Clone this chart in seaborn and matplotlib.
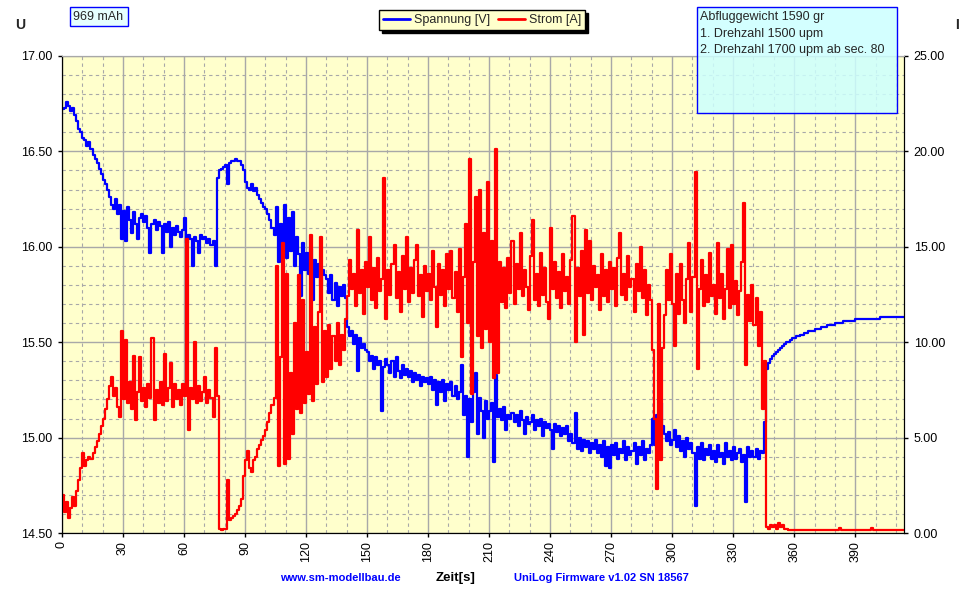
#import the required libraries
import matplotlib
matplotlib.use("Agg")
import matplotlib.pyplot as plt
from matplotlib.lines import Line2D
from matplotlib.patches import Rectangle
from matplotlib.ticker import MultipleLocator, FormatStrFormatter
import seaborn as sns

# UniLog log, one sample per second (t = 0 ... 414 s)
zeit = list(range(0, 415))

# Spannung [V]
spannung = [
    16.72, 16.73, 16.76, 16.74, 16.71, 16.73, 16.69, 16.66, 16.62, 16.60,  # 0
    16.57, 16.56, 16.53, 16.55, 16.51, 16.48, 16.46, 16.44, 16.41, 16.38,  # 10
    16.35, 16.33, 16.30, 16.26, 16.22, 16.20, 16.25, 16.17, 16.22, 16.04,  # 20
    16.19, 16.03, 16.21, 16.14, 16.07, 16.18, 16.12, 16.04, 16.15, 16.17,  # 30
    16.13, 16.16, 16.10, 15.97, 16.12, 16.14, 16.09, 16.13, 16.11, 15.97,  # 40
    16.12, 16.08, 16.13, 16.00, 16.10, 16.06, 16.11, 16.08, 16.05, 16.09,  # 50
    16.15, 16.02, 16.06, 16.04, 15.90, 16.05, 16.03, 15.97, 16.06, 16.04,  # 60
    16.05, 16.02, 16.04, 16.01, 16.03, 15.90, 16.36, 16.40, 16.41, 16.42,  # 70
    16.43, 16.33, 16.44, 16.45, 16.45, 16.46, 16.45, 16.45, 16.43, 16.40,  # 80
    16.34, 16.31, 16.30, 16.33, 16.29, 16.31, 16.27, 16.25, 16.23, 16.21,  # 90
    16.20, 16.17, 16.14, 16.10, 16.06, 16.21, 15.92, 16.12, 15.95, 16.22,  # 100
    15.94, 16.15, 15.98, 16.18, 15.90, 16.05, 15.96, 15.74, 16.02, 15.88,  # 110
    15.97, 15.86, 15.99, 15.72, 15.93, 15.84, 15.91, 15.80, 15.88, 15.85,  # 120
    15.83, 15.76, 15.85, 15.72, 15.81, 15.69, 15.79, 15.74, 15.80, 15.73,  # 130
    15.58, 15.53, 15.56, 15.49, 15.54, 15.35, 15.52, 15.47, 15.49, 15.46,  # 140
    15.45, 15.40, 15.43, 15.36, 15.42, 15.38, 15.40, 15.14, 15.37, 15.41,  # 150
    15.38, 15.34, 15.40, 15.32, 15.42, 15.35, 15.31, 15.38, 15.33, 15.36,  # 160
    15.32, 15.35, 15.29, 15.34, 15.30, 15.33, 15.27, 15.32, 15.29, 15.31,  # 170
    15.28, 15.32, 15.25, 15.30, 15.17, 15.29, 15.24, 15.30, 15.19, 15.28,  # 180
    15.25, 15.29, 15.22, 15.27, 15.20, 15.24, 15.38, 15.12, 15.22, 14.90,  # 190
    15.20, 15.08, 15.24, 15.34, 15.02, 15.21, 15.14, 15.00, 15.19, 15.10,  # 200
    15.14, 15.18, 14.87, 15.33, 15.11, 15.15, 15.09, 15.16, 15.04, 15.12,  # 210
    15.10, 15.13, 15.08, 15.12, 15.06, 15.14, 15.09, 15.02, 15.11, 15.07,  # 220
    15.08, 15.12, 15.04, 15.09, 15.06, 15.10, 15.01, 15.08, 15.05, 15.07,  # 230
    15.04, 14.94, 15.07, 15.03, 15.06, 15.01, 15.05, 15.02, 15.06, 14.98,  # 240
    15.02, 14.97, 15.13, 14.94, 15.00, 14.93, 14.99, 14.95, 14.98, 14.92,  # 250
    14.97, 14.94, 14.99, 14.92, 14.96, 14.90, 14.98, 14.85, 14.95, 14.84,  # 260
    14.96, 14.91, 14.97, 14.89, 14.94, 14.92, 14.98, 14.88, 14.95, 14.91,  # 270
    14.93, 14.97, 14.86, 14.95, 14.91, 14.98, 14.88, 14.94, 14.92, 14.96,  # 280
    15.10, 14.96, 15.12, 14.99, 15.18, 15.06, 15.02, 14.98, 15.03, 14.96,  # 290
    14.99, 15.04, 14.95, 15.01, 14.93, 14.98, 14.90, 15.00, 14.94, 14.97,  # 300
    14.92, 14.64, 14.95, 14.89, 14.97, 14.88, 14.94, 14.91, 14.96, 14.89,  # 310
    14.93, 14.87, 14.96, 14.90, 14.92, 14.86, 14.97, 14.90, 14.93, 14.88,  # 320
    14.95, 14.89, 14.92, 14.94, 14.87, 14.91, 14.66, 14.95, 14.90, 14.93,  # 330
    14.90, 14.94, 14.89, 14.93, 14.92, 15.08, 15.36, 15.39, 15.41, 15.43,  # 340
    15.44, 15.45, 15.46, 15.47, 15.48, 15.49, 15.50, 15.50, 15.51, 15.52,  # 350
    15.52, 15.53, 15.53, 15.54, 15.54, 15.55, 15.55, 15.56, 15.56, 15.56,  # 360
    15.57, 15.57, 15.57, 15.58, 15.58, 15.58, 15.59, 15.59, 15.59, 15.59,  # 370
    15.60, 15.60, 15.60, 15.60, 15.61, 15.61, 15.61, 15.61, 15.61, 15.61,  # 380
    15.62, 15.62, 15.62, 15.62, 15.62, 15.62, 15.62, 15.62, 15.62, 15.62,  # 390
    15.62, 15.62, 15.63, 15.63, 15.63, 15.63, 15.63, 15.63, 15.63, 15.63,  # 400
    15.63, 15.63, 15.63, 15.63, 15.63,                                      # 410
]

# Strom [A]
strom = [
    2.0, 1.1, 1.6, 0.8, 1.3, 1.9, 1.4, 2.2, 2.8, 3.4,      # 0
    4.2, 3.5, 3.8, 4.0, 3.9, 4.2, 4.5, 4.8, 5.2, 5.6,      # 10
    6.0, 6.5, 7.0, 7.7, 8.2, 7.2, 7.6, 6.6, 6.1, 10.6,     # 20
    7.0, 10.1, 6.8, 7.9, 6.5, 9.3, 5.9, 7.4, 9.2, 6.9,     # 30
    7.6, 6.6, 7.8, 7.1, 10.2, 5.9, 7.5, 6.8, 7.9, 6.7,     # 40
    9.4, 6.9, 7.6, 8.9, 6.6, 7.8, 7.0, 7.5, 6.7, 7.8,      # 50
    7.2, 15.4, 5.4, 7.6, 7.0, 10.0, 6.8, 7.7, 6.9, 7.4,    # 60
    8.2, 6.8, 7.5, 7.1, 6.1, 9.7, 7.2, 0.2, 0.15, 0.2,     # 70
    0.2, 2.8, 0.7, 0.8, 0.9, 1.0, 1.2, 1.4, 1.8, 3.0,      # 80
    3.8, 4.3, 3.4, 3.2, 3.8, 4.0, 4.4, 4.6, 4.9, 5.1,      # 90
    5.4, 5.8, 6.3, 6.7, 7.1, 14.0, 3.5, 9.2, 15.2, 3.6,    # 100
    13.6, 3.9, 8.4, 5.2, 11.0, 6.5, 13.5, 6.3, 12.2, 6.8,  # 110
    9.5, 7.3, 15.6, 6.9, 10.8, 7.8, 11.6, 15.5, 7.9, 10.6, # 120
    8.2, 10.9, 8.6, 10.3, 9.0, 11.0, 8.8, 10.4, 9.6, 11.2, # 130
    12.4, 14.3, 12.8, 13.6, 11.9, 15.9, 12.6, 13.8, 11.5, 14.2,  # 140
    12.9, 15.5, 12.2, 13.9, 11.8, 14.4, 12.7, 13.3, 18.6, 11.2,  # 150
    13.8, 12.5, 14.1, 15.1, 12.3, 13.7, 11.6, 14.5, 12.8, 15.5,  # 160
    12.1, 13.9, 12.6, 14.3, 15.1, 12.4, 13.5, 11.3, 14.0, 12.7,  # 170
    13.6, 12.2, 14.8, 12.9, 10.8, 14.1, 12.5, 13.8, 11.9, 14.6,  # 180
    12.8, 14.8, 12.3, 13.7, 11.6, 14.9, 9.2, 13.4, 16.2, 11.0,   # 190
    19.6, 7.3, 14.2, 17.6, 10.3, 18.0, 9.7, 15.7, 10.7, 18.4,    # 200
    10.0, 15.3, 8.1, 20.1, 8.4, 14.2, 12.1, 13.9, 11.8, 14.4,    # 210
    12.6, 15.3, 12.0, 14.1, 12.8, 15.7, 12.4, 13.8, 12.9, 11.7,  # 220
    14.5, 16.4, 12.2, 13.6, 11.9, 14.7, 12.5, 13.9, 12.1, 11.2,  # 230
    16.0, 12.8, 14.2, 12.3, 13.7, 11.8, 14.6, 12.7, 13.4, 12.0,  # 240
    14.3, 16.6, 10.0, 13.9, 12.4, 14.8, 10.4, 15.9, 12.6, 15.3,  # 250
    12.2, 14.0, 12.9, 13.5, 11.7, 14.6, 12.4, 13.8, 12.1, 14.2,  # 260
    12.8, 13.9, 11.9, 14.4, 15.7, 12.5, 13.6, 12.2, 14.5, 12.9,  # 270
    13.3, 11.6, 14.1, 12.7, 15.0, 12.3, 13.8, 11.4, 13.0, 12.2,  # 280
    9.6, 6.0, 2.3, 12.0, 3.8, 9.7, 11.4, 13.8, 12.2, 14.6,       # 290
    12.0, 9.8, 13.6, 11.5, 14.1, 12.2, 11.0, 13.3, 15.2, 11.6,   # 300
    13.4, 18.9, 8.6, 12.8, 14.3, 11.9, 13.5, 12.1, 14.7, 12.4,   # 310
    13.0, 11.5, 15.2, 12.3, 13.6, 11.2, 12.8, 14.9, 11.8, 15.1,  # 320
    12.0, 13.2, 11.4, 12.7, 14.2, 17.3, 8.8, 12.5, 11.1, 13.0,   # 330
    10.9, 12.3, 9.8, 11.6, 6.5, 9.0, 0.3, 0.2, 0.4, 0.3,         # 340
    0.4, 0.2, 0.5, 0.3, 0.4, 0.2, 0.2, 0.15, 0.15, 0.15,         # 350
    0.15, 0.15, 0.15, 0.15, 0.15, 0.15, 0.15, 0.15, 0.15, 0.15,  # 360
    0.15, 0.15, 0.15, 0.15, 0.15, 0.15, 0.15, 0.15, 0.15, 0.15,  # 370
    0.15, 0.15, 0.25, 0.15, 0.15, 0.15, 0.15, 0.15, 0.15, 0.15,  # 380
    0.15, 0.15, 0.15, 0.15, 0.15, 0.15, 0.15, 0.15, 0.25, 0.15,  # 390
    0.15, 0.15, 0.15, 0.15, 0.15, 0.15, 0.15, 0.15, 0.15, 0.15,  # 400
    0.15, 0.15, 0.15, 0.15, 0.15,                                # 410
]

assert len(spannung) == len(zeit) and len(strom) == len(zeit)

sns.set_style("ticks")
plt.rcParams["font.family"] = ["Liberation Sans", "DejaVu Sans"]

fig = plt.figure(figsize=(9.70, 6.04), dpi=100, facecolor="white")
ax = fig.add_axes([62 / 970, 71 / 604, 842 / 970, 477 / 604])
ax2 = ax.twinx()

#voltage on the left axis, current on the right axis (logger steps)
sns.lineplot(x=zeit, y=spannung, ax=ax, color="#0000FF", linewidth=1.6,
             estimator=None, drawstyle="steps-post", legend=False)
sns.lineplot(x=zeit, y=strom, ax=ax2, color="#FF0000", linewidth=1.6,
             estimator=None, drawstyle="steps-post", legend=False)

ax.set_xlim(0, 414)
ax.set_ylim(14.5, 17.0)
ax2.set_ylim(0, 25)
ax.set_xlabel("")
ax.set_ylabel("")
ax2.set_ylabel("")

ax.xaxis.set_major_locator(MultipleLocator(30))
ax.xaxis.set_minor_locator(MultipleLocator(10))
ax.yaxis.set_major_locator(MultipleLocator(0.5))
ax.yaxis.set_minor_locator(MultipleLocator(0.1))
ax.yaxis.set_major_formatter(FormatStrFormatter("%.2f"))
ax2.yaxis.set_major_locator(MultipleLocator(5))
ax2.yaxis.set_minor_locator(MultipleLocator(1))
ax2.yaxis.set_major_formatter(FormatStrFormatter("%.2f"))

ax.set_facecolor("#FFFFCC")
ax.grid(which="major", color="#A8A8A8", linewidth=1.0, linestyle="-")
ax.grid(which="minor", color="#A8A8A8", linewidth=0.8, linestyle=(0, (3, 3)))
ax.set_axisbelow(True)

for a in (ax, ax2):
    a.tick_params(which="minor", length=0)
    a.tick_params(which="major", length=3, width=1, direction="out",
                  labelsize=9, colors="black", pad=4)
    a.spines["top"].set_color("#A8A8A8")
    a.spines["left"].set_color("black")
    a.spines["right"].set_color("black")
    a.spines["bottom"].set_color("black")
ax.tick_params(axis="x", labelrotation=90, pad=3)

#axis letters
fig.text(15 / 970, 1 - 25 / 604, "U", fontsize=10, fontweight="bold", va="center")
fig.text(955 / 970, 1 - 25 / 604, "I", fontsize=10, fontweight="bold", va="center")

#legend box with shadow
handles = [Line2D([], [], color="#0000FF", linewidth=2),
           Line2D([], [], color="#FF0000", linewidth=2)]
leg = fig.legend(handles, ["Spannung [V]", "Strom [A]"], loc="center",
                 bbox_to_anchor=(482 / 970, 1 - 20 / 604), ncol=2,
                 frameon=True, fancybox=False,
                 shadow={"color": "black", "alpha": 1},
                 facecolor="#FFFFCC", edgecolor="black", framealpha=1,
                 fontsize=9, handlelength=2.2, handletextpad=0.3,
                 columnspacing=0.6, borderpad=0.3, borderaxespad=0)
leg.get_frame().set_linewidth(1)

#capacity box
fig.patches.append(Rectangle((70 / 970, 1 - 26 / 604), 58 / 970, 19 / 604,
                             transform=fig.transFigure, facecolor="#E6FFFF",
                             edgecolor="#0000FF", linewidth=1, zorder=2))
fig.text(73 / 970, 1 - 16.5 / 604, "969 mAh", fontsize=9, va="center", zorder=3)

#note box
fig.patches.append(Rectangle((697 / 970, 1 - 113 / 604), 200 / 970, 106 / 604,
                             transform=fig.transFigure,
                             facecolor=(0.8, 1.0, 1.0, 0.85),
                             edgecolor="#0000FF", linewidth=1, zorder=2))
notiz = ["Abfluggewicht 1590 gr", "1. Drehzahl 1500 upm",
         "2. Drehzahl 1700 upm ab sec. 80"]
for i, zeile in enumerate(notiz):
    fig.text(700 / 970, 1 - (17 + i * 16.5) / 604, zeile, fontsize=9,
             va="center", zorder=3)

#footer
fig.text(340 / 970, 1 - 578 / 604, "www.sm-modellbau.de", fontsize=8,
         fontweight="bold", color="#0000FF", ha="center", va="center")
fig.text(456 / 970, 1 - 578 / 604, "Zeit[s]", fontsize=9.5,
         fontweight="bold", color="black", ha="center", va="center")
fig.text(601 / 970, 1 - 578 / 604, "UniLog Firmware v1.02 SN 18567", fontsize=8,
         fontweight="bold", color="#0000FF", ha="center", va="center")

fig.savefig("out.png", dpi=100, facecolor="white")
